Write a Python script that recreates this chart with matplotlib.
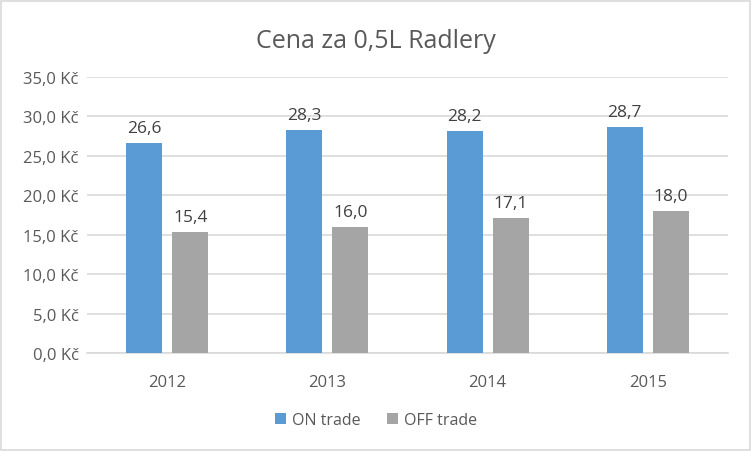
import numpy as np
import matplotlib
matplotlib.use('Agg')
import matplotlib.pyplot as plt
from matplotlib.patches import Rectangle

years = ['2012', '2013', '2014', '2015']
on_trade = [26.6, 28.3, 28.2, 28.7]
off_trade = [15.4, 16.0, 17.1, 18.0]
title = 'Cena za 0,5L Radlery'
series_names = ['ON trade', 'OFF trade']

plt.rcParams['font.family'] = ['Open Sans', 'DejaVu Sans']
W, H = 752, 452
fig = plt.figure(figsize=(W / 100, H / 100), dpi=100)
ax = fig.add_axes([87 / W, 1 - 354 / H, (728 - 87) / W, (354 - 78) / H])

x = np.arange(len(years))
bw = 0.225
off = 0.144
b1 = ax.bar(x - off, on_trade, bw, color='#5B9BD5', label=series_names[0], zorder=3)
b2 = ax.bar(x + off, off_trade, bw, color='#A5A5A5', label=series_names[1], zorder=3)

for bars, vals in ((b1, on_trade), (b2, off_trade)):
    for r, v in zip(bars, vals):
        ax.annotate(f'{v:.1f}'.replace('.', ','), (r.get_x() + r.get_width() / 2, v),
                    xytext=(0, 5), textcoords='offset points', ha='center', va='bottom',
                    fontsize=12.5, color='#404040')

ax.set_xlim(-0.5, len(years) - 0.5)
ax.set_ylim(0, 35)
ax.set_yticks(np.arange(0, 36, 5))
ax.set_yticklabels([f'{v:.1f}'.replace('.', ',') + ' Kč' for v in np.arange(0, 36, 5)])
ax.set_xticks(x)
ax.set_xticklabels(years)
ax.grid(axis='y', color='#D9D9D9', linewidth=1.2, zorder=0)
for s in ['top', 'right', 'left']:
    ax.spines[s].set_visible(False)
ax.spines['bottom'].set_color('#D9D9D9')
ax.spines['bottom'].set_linewidth(1.2)
ax.tick_params(axis='both', length=0, labelsize=12, labelcolor='#595959')
ax.tick_params(axis='y', pad=6)
ax.tick_params(axis='x', pad=15)

fig.text(0.5, 1 - 42 / H, title, ha='center', va='center', fontsize=18, color='#595959')
fig.legend(handles=[b1, b2], labels=series_names, loc='center', bbox_to_anchor=(0.5, 1 - 421 / H),
           ncol=2, frameon=False, fontsize=11.5, handlelength=0.7, handleheight=0.7,
           handletextpad=0.4, columnspacing=1.6, labelcolor='#595959')

fig.patches.append(Rectangle((1 / W, 1 / H), 1 - 3 / W, 1 - 3 / H, transform=fig.transFigure,
                             fill=False, edgecolor='#D9D9D9', linewidth=1.2))

fig.savefig('out.png', dpi=100)
